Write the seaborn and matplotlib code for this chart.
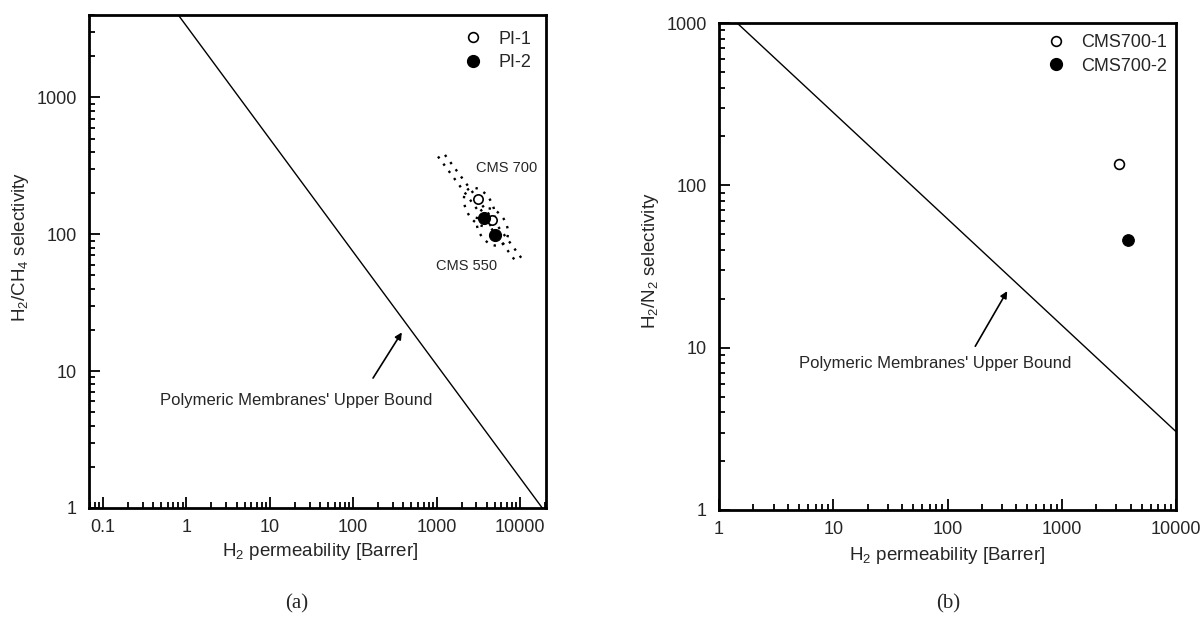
import numpy as np
import pandas as pd
import matplotlib
matplotlib.use("Agg")
import matplotlib.pyplot as plt
import seaborn as sns
from matplotlib.ticker import LogLocator, FuncFormatter, NullFormatter
from matplotlib.lines import Line2D

sns.set_theme(style="white")
plt.rcParams["font.family"] = ["Liberation Sans", "DejaVu Sans"]
plt.rcParams["mathtext.fontset"] = "custom"
plt.rcParams["mathtext.rm"] = "Liberation Sans"
plt.rcParams["mathtext.it"] = "Liberation Sans:italic"
plt.rcParams["mathtext.bf"] = "Liberation Sans:bold"

# ---------------- data ----------------
# panel (a): H2/CH4
pi_sample = ["PI-1", "PI-1", "PI-2", "PI-2"]
pi_perm = [3100, 4650, 3700, 5000]
pi_sel = [180, 128, 132, 98]
bound_a_perm = [0.8, 18500]
bound_a_sel = [4000, 1]
band1_perm = [1040, 9500]
band1_sel = [370, 60]
band2_perm = [1260, 11000]
band2_sel = [380, 64]
ellipse_centers_perm = [3250, 4650]
ellipse_centers_sel = [158, 113]

# panel (b): H2/N2
cms_sample = ["CMS700-1", "CMS700-2"]
cms_perm = [3200, 3800]
cms_sel = [136, 46]
bound_b_perm = [1.44, 10000]
bound_b_sel = [1000, 3.04]

xlim_a = (0.068, 20500)
ylim_a = (1, 4000)
xlim_b = (1, 10000)
ylim_b = (1, 1000)

df_pi = pd.DataFrame({"sample": pi_sample, "perm": pi_perm, "sel": pi_sel})
df_cms = pd.DataFrame({"sample": cms_sample, "perm": cms_perm, "sel": cms_sel})

fig = plt.figure(figsize=(12.02, 6.24), dpi=100)
ax_a = fig.add_axes([89 / 1202, 1 - 508 / 624, 457 / 1202, 493 / 624])
ax_b = fig.add_axes([719 / 1202, 1 - 510 / 624, 457 / 1202, 487 / 624])

TICK_FS = 13


def style_axes(ax, xlim, ylim):
    ax.set_xscale("log")
    ax.set_yscale("log")
    ax.set_xlim(*xlim)
    ax.set_ylim(*ylim)
    for s in ax.spines.values():
        s.set_visible(True)
        s.set_color("black")
        s.set_linewidth(2)
    ax.xaxis.set_major_locator(LogLocator(base=10, numticks=20))
    ax.yaxis.set_major_locator(LogLocator(base=10, numticks=20))
    ax.xaxis.set_minor_locator(LogLocator(base=10, subs=np.arange(2, 10), numticks=200))
    ax.yaxis.set_minor_locator(LogLocator(base=10, subs=np.arange(2, 10), numticks=200))
    fmt = FuncFormatter(lambda v, p: f"{v:g}")
    ax.xaxis.set_major_formatter(fmt)
    ax.yaxis.set_major_formatter(fmt)
    ax.xaxis.set_minor_formatter(NullFormatter())
    ax.yaxis.set_minor_formatter(NullFormatter())
    ax.tick_params(which="both", direction="in", bottom=True, left=True, top=False, right=False,
                   color="black", width=1.3)
    ax.tick_params(which="major", length=8)
    ax.tick_params(which="minor", length=4.5)
    ax.tick_params(axis="x", which="major", pad=8, labelsize=TICK_FS)
    ax.tick_params(axis="y", which="major", pad=9, labelsize=TICK_FS)
    ax.grid(False)
    ax.set_facecolor("white")


style_axes(ax_a, xlim_a, ylim_a)
style_axes(ax_b, xlim_b, ylim_b)

# ---------- panel (a) ----------
sns.lineplot(x=bound_a_perm, y=bound_a_sel, ax=ax_a, color="black", linewidth=1.0,
             sort=False, estimator=None)
dot = (0, (1, 2.8))
ax_a.plot(band1_perm, band1_sel, color="black", linewidth=1.7, linestyle=dot)
ax_a.plot(band2_perm, band2_sel, color="black", linewidth=1.7, linestyle=dot)


def ellipse(ax, cx, cy, a, b, theta_deg):
    t = np.linspace(0, 2 * np.pi, 120)
    X0, Y0 = ax.transData.transform((cx, cy))
    th = np.deg2rad(theta_deg)
    dx = a * np.cos(t) * np.cos(th) - b * np.sin(t) * np.sin(th)
    dy = a * np.cos(t) * np.sin(th) + b * np.sin(t) * np.cos(th)
    pts = ax.transData.inverted().transform(np.column_stack([X0 + dx, Y0 + dy]))
    ax.plot(pts[:, 0], pts[:, 1], color="black", linewidth=1.7, linestyle=dot)


ellipse(ax_a, ellipse_centers_perm[0], ellipse_centers_sel[0], 21, 13, -60)
ellipse(ax_a, ellipse_centers_perm[1], ellipse_centers_sel[1], 20, 14, -60)

pi1 = df_pi[df_pi["sample"] == "PI-1"]
pi2 = df_pi[df_pi["sample"] == "PI-2"]
sns.scatterplot(data=pi1, x="perm", y="sel", ax=ax_a, marker="o", s=45,
                facecolor="white", edgecolor="black", linewidth=1.2, legend=False, zorder=4)
sns.scatterplot(data=pi2, x="perm", y="sel", ax=ax_a, marker="o", s=75,
                color="black", edgecolor="black", linewidth=0.8, legend=False, zorder=5)

ax_a.text(3000, 305, "CMS 700", fontsize=10.5, ha="left", va="center")
ax_a.text(990, 59, "CMS 550", fontsize=10.5, ha="left", va="center")
ax_a.text(20.5, 6.1, "Polymeric Membranes' Upper Bound", fontsize=12, ha="center", va="center")
ax_a.annotate("", xy=(383, 19.2), xytext=(173, 8.9),
              arrowprops=dict(arrowstyle="-|>", color="black", lw=1.2, mutation_scale=10,
                              shrinkA=0, shrinkB=0))

handles_a = [
    Line2D([], [], marker="o", linestyle="none", markerfacecolor="white",
           markeredgecolor="black", markersize=7, markeredgewidth=1.2),
    Line2D([], [], marker="o", linestyle="none", markerfacecolor="black",
           markeredgecolor="black", markersize=8.5),
]
ax_a.legend(handles_a, ["PI-1", "PI-2"], loc="upper right", bbox_to_anchor=(0.967, 0.968),
            frameon=False, borderpad=0, borderaxespad=0, handlelength=1.0,
            handletextpad=0.9, labelspacing=0.35, fontsize=13)

ax_a.set_xlabel(r"H$_\mathregular{2}$ permeability [Barrer]", fontsize=13.5)
ax_a.set_ylabel(r"H$_\mathregular{2}$/CH$_\mathregular{4}$ selectivity", fontsize=13.5)
ax_a.xaxis.set_label_coords(0.505, -0.067)
ax_a.yaxis.set_label_coords(-0.128, 0.53)

# ---------- panel (b) ----------
sns.lineplot(x=bound_b_perm, y=bound_b_sel, ax=ax_b, color="black", linewidth=1.0,
             sort=False, estimator=None)
c1 = df_cms[df_cms["sample"] == "CMS700-1"]
c2 = df_cms[df_cms["sample"] == "CMS700-2"]
sns.scatterplot(data=c1, x="perm", y="sel", ax=ax_b, marker="o", s=50,
                facecolor="white", edgecolor="black", linewidth=1.2, legend=False, zorder=4)
sns.scatterplot(data=c2, x="perm", y="sel", ax=ax_b, marker="o", s=70,
                color="black", edgecolor="black", linewidth=0.8, legend=False, zorder=5)

ax_b.text(78, 8.0, "Polymeric Membranes' Upper Bound", fontsize=12, ha="center", va="center")
ax_b.annotate("", xy=(333, 22.3), xytext=(175, 10.2),
              arrowprops=dict(arrowstyle="-|>", color="black", lw=1.2, mutation_scale=10,
                              shrinkA=0, shrinkB=0))

handles_b = [
    Line2D([], [], marker="o", linestyle="none", markerfacecolor="white",
           markeredgecolor="black", markersize=7, markeredgewidth=1.2),
    Line2D([], [], marker="o", linestyle="none", markerfacecolor="black",
           markeredgecolor="black", markersize=8.5),
]
ax_b.legend(handles_b, ["CMS700-1", "CMS700-2"], loc="upper right", bbox_to_anchor=(0.980, 0.977),
            frameon=False, borderpad=0, borderaxespad=0, handlelength=1.0,
            handletextpad=0.9, labelspacing=0.35, fontsize=13)

ax_b.set_xlabel(r"H$_\mathregular{2}$ permeability [Barrer]", fontsize=13.5)
ax_b.set_ylabel(r"H$_\mathregular{2}$/N$_\mathregular{2}$ selectivity", fontsize=13.5)
ax_b.xaxis.set_label_coords(0.499, -0.072)
ax_b.yaxis.set_label_coords(-0.127, 0.513)

fig.text(297 / 1202, 1 - 604 / 624, "(a)", ha="center", va="center",
         family=["Liberation Serif", "DejaVu Serif"], fontsize=15)
fig.text(948 / 1202, 1 - 604 / 624, "(b)", ha="center", va="center",
         family=["Liberation Serif", "DejaVu Serif"], fontsize=15)

fig.savefig("out.png", dpi=100, facecolor="white")
